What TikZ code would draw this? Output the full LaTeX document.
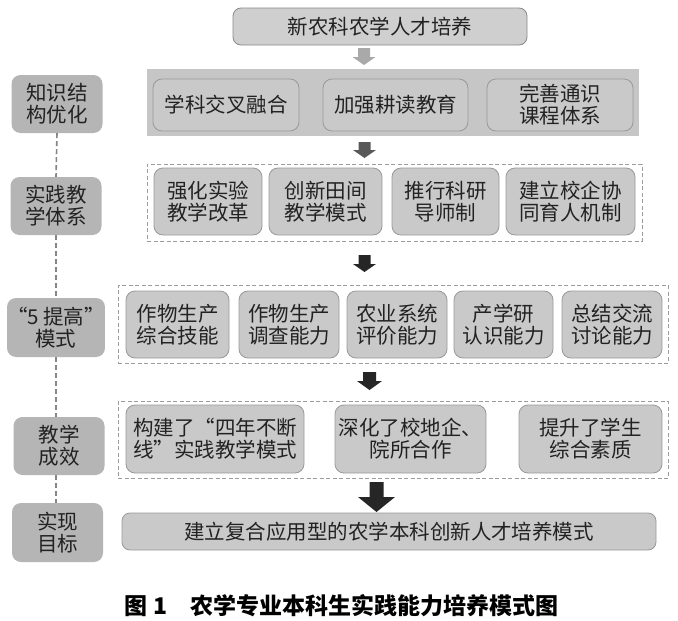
\documentclass[tikz,border=0pt]{standalone}
\usepackage{fontspec}
\setmainfont{Noto Sans CJK SC}
\newfontfamily\cjkfont{Noto Sans CJK SC}
\usetikzlibrary{calc}
\definecolor{labgray}{HTML}{B5B5B5}
\definecolor{boxgray}{HTML}{C9C9C9}
\definecolor{boxborder}{HTML}{999999}
\definecolor{bandgray}{HTML}{C6C6C6}
\definecolor{topfill}{HTML}{CFCFCF}
\definecolor{framegray}{HTML}{9C9C9C}
\definecolor{txt}{HTML}{222222}
\definecolor{arrA}{HTML}{A9A9A9}
\definecolor{arrB}{HTML}{585858}
\definecolor{arrC}{HTML}{262626}
\newcommand\boxfont{\cjkfont\fontsize{20.5}{22}\selectfont}
\newcommand\capfont{\cjkfont\bfseries\fontsize{23}{26}\selectfont}
% x, ytop, ybottom, shaft width, head width, head start y, colour
\newcommand\blockarrow[7]{\fill[#7] ({#1-#4/2},#2) -- ({#1+#4/2},#2) -- ({#1+#4/2},#6) -- ({#1+#5/2},#6) -- (#1,#3) -- ({#1-#5/2},#6) -- ({#1-#4/2},#6) -- cycle;}
\begin{document}
\begin{tikzpicture}[x=1pt,y=-1pt,
  every node/.style={text=txt},
  lab/.style={fill=labgray, rounded corners=9pt, minimum width=91pt, minimum height=58pt, inner sep=0pt, align=center, font=\boxfont},
  box/.style={fill=boxgray, draw=boxborder, line width=0.8pt, rounded corners=9pt, inner sep=0pt, align=center, font=\boxfont},
  topbox/.style={fill=topfill, draw=boxborder!90!black, line width=0.8pt, rounded corners=8pt, inner sep=0pt, align=center, font=\boxfont},
  frame/.style={draw=framegray, dash pattern=on 4pt off 2.5pt, line width=0.8pt, inner sep=0pt},
  link/.style={draw=framegray!85!black, dash pattern=on 5pt off 3pt, line width=1.6pt}
]
\fill[white] (0,0) rectangle (678,621);
\useasboundingbox (0,0) rectangle (678,621);

% top
\node[topbox, minimum width=294pt, minimum height=37pt] (top) at (380,26.5) {新农科农学人才培养};
\blockarrow{364}{48}{65}{12}{23}{57}{arrA}

% row 1
\node[fill=bandgray, minimum width=492pt, minimum height=67pt, inner sep=0pt] (band) at (393,102.5) {};
\node[box, minimum width=146pt, minimum height=52pt] (a1) at (226,105) {学科交叉融合};
\node[box, minimum width=145pt, minimum height=52pt] (a2) at (395.5,105) {加强耕读教育};
\node[box, minimum width=146pt, minimum height=52pt] (a3) at (560,105) {完善通识\\课程体系};
\blockarrow{364.5}{142}{158}{12}{23}{150}{arrB}

% row 2
\node[frame, minimum width=495pt, minimum height=77pt] (f2) at (394.5,202.5) {};
\node[box, minimum width=108pt, minimum height=67pt] (b1) at (208,201.5) {强化实验\\教学改革};
\node[box, minimum width=113pt, minimum height=67pt] (b2) at (325.5,201.5) {创新田间\\教学模式};
\node[box, minimum width=107pt, minimum height=67pt] (b3) at (445.5,201.5) {推行科研\\导师制};
\node[box, minimum width=129pt, minimum height=67pt] (b4) at (570.5,201.5) {建立校企协\\同育人机制};
\blockarrow{364.5}{255}{272}{12}{23}{264}{arrC}

% row 3
\node[frame, minimum width=550pt, minimum height=78pt] (f3) at (393,324) {};
\node[box, minimum width=103pt, minimum height=67pt] (c1) at (177.5,324.5) {作物生产\\综合技能};
\node[box, minimum width=100pt, minimum height=67pt] (c2) at (289,324.5) {作物生产\\调查能力};
\node[box, minimum width=100pt, minimum height=67pt] (c3) at (397,324.5) {农业系统\\评价能力};
\node[box, minimum width=99pt, minimum height=67pt] (c4) at (503.5,324.5) {产学研\\认识能力};
\node[box, minimum width=100pt, minimum height=67pt] (c5) at (612,324.5) {总结交流\\讨论能力};
\blockarrow{369.5}{372}{390}{13}{25}{381}{arrC}

% row 4
\node[frame, minimum width=550pt, minimum height=77pt] (f4) at (393,439.5) {};
\node[box, minimum width=178pt, minimum height=68pt] (d1) at (215,439) {构建了“四年不断\\线”实践教学模式};
\node[box, minimum width=151pt, minimum height=68pt] (d2) at (410.5,439) {深化了校地企、\\院所合作};
\node[box, minimum width=143pt, minimum height=68pt] (d3) at (590.5,439) {提升了学生\\综合素质};
\blockarrow{376.5}{482}{512}{14}{37}{497}{arrC}

% goal
\node[box, minimum width=534pt, minimum height=37pt, rounded corners=8pt] (goal) at (389,531.5) {建立复合应用型的农学本科创新人才培养模式};

% left labels
\node[lab] (l1) at (57,104) {知识结\\构优化};
\node[lab] (l2) at (56,206) {实践教\\学体系};
\node[lab, minimum height=59pt] (l3) at (56,327.5) {“5 提高”\\模式};
\node[lab] (l4) at (59,446) {教学\\成效};
\node[lab, minimum height=59pt] (l5) at (57.5,532.5) {实现\\目标};
\draw[link] (l1.south) -- (l2.north);
\draw[link] (l2.south) -- (l3.north);
\draw[link] (l3.south) -- (l4.north -| l3.south);
\draw[link] (l4.south -| l3.south) -- (l5.north -| l3.south);

% caption
\node[font=\capfont, text=black] (cap) at (341.5,606) {图 1\hspace{1em}农学专业本科生实践能力培养模式图};
\end{tikzpicture}
\end{document}
